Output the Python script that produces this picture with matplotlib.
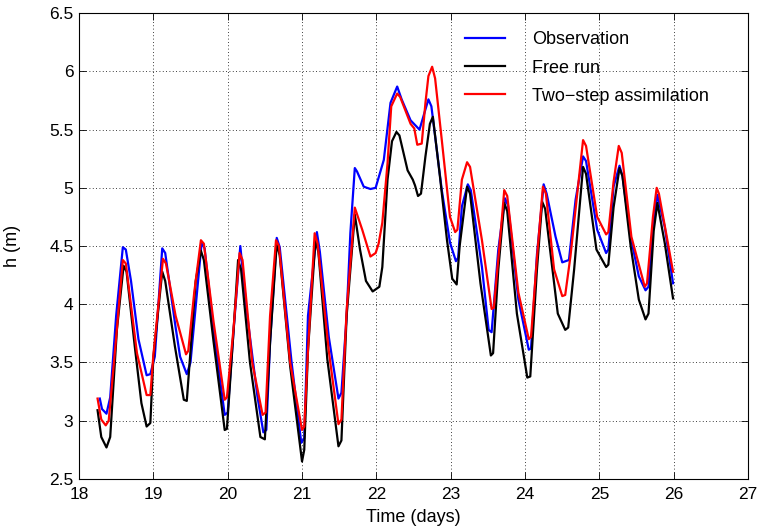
import numpy as np
import matplotlib.pyplot as plt
import matplotlib as mpl

mpl.rcParams.update({
    "font.family": "Liberation Sans",
    "font.size": 13,
    "xtick.labelsize": 12.5,
    "ytick.labelsize": 12.5,
    "xtick.direction": "in",
    "ytick.direction": "in",
    "xtick.top": True,
    "ytick.right": True,
})

# observation (blue)
obs_t = [18.28, 18.31, 18.37, 18.42, 18.50, 18.59, 18.63, 18.70, 18.80, 18.91,
         18.96, 19.02, 19.12, 19.16, 19.30, 19.36, 19.45, 19.50, 19.65, 19.69,
         19.81, 19.96, 20.00, 20.08, 20.17, 20.26, 20.40, 20.48, 20.52, 20.57,
         20.66, 20.70, 20.86, 20.99, 21.03, 21.08, 21.20, 21.24, 21.36, 21.49,
         21.53, 21.60, 21.65, 21.71, 21.74, 21.83, 21.92, 21.99, 22.10, 22.19,
         22.28, 22.34, 22.46, 22.58, 22.70, 22.74, 22.88, 22.99, 23.07, 23.10,
         23.15, 23.23, 23.27, 23.42, 23.51, 23.55, 23.64, 23.73, 23.77, 23.91,
         24.05, 24.08, 24.16, 24.25, 24.29, 24.41, 24.50, 24.59, 24.68, 24.78,
         24.82, 24.97, 25.09, 25.12, 25.19, 25.27, 25.31, 25.42, 25.53, 25.62,
         25.66, 25.73, 25.78, 25.88, 25.99]
obs_h = [3.19, 3.10, 3.06, 3.20, 3.90, 4.49, 4.47, 4.20, 3.70, 3.39,
         3.40, 3.55, 4.48, 4.44, 3.80, 3.55, 3.40, 3.50, 4.53, 4.48,
         3.78, 3.05, 3.07, 3.78, 4.50, 3.92, 3.21, 2.90, 2.92, 3.67,
         4.57, 4.49, 3.50, 2.81, 2.85, 3.90, 4.62, 4.45, 3.72, 3.19,
         3.24, 3.90, 4.61, 5.17, 5.14, 5.01, 4.99, 5.00, 5.24, 5.73,
         5.87, 5.76, 5.58, 5.50, 5.76, 5.70, 4.98, 4.53, 4.37, 4.40,
         4.84, 5.03, 4.98, 4.32, 3.78, 3.76, 4.47, 4.91, 4.85, 4.04,
         3.61, 3.62, 4.43, 5.03, 4.95, 4.58, 4.36, 4.38, 4.90, 5.27,
         5.23, 4.64, 4.44, 4.47, 5.01, 5.19, 5.10, 4.58, 4.24, 4.12,
         4.15, 4.72, 4.94, 4.66, 4.18]

# free run (black)
free_t = [18.25, 18.30, 18.37, 18.42, 18.51, 18.60, 18.64, 18.75, 18.84, 18.91,
          18.96, 19.00, 19.12, 19.16, 19.29, 19.41, 19.45, 19.57, 19.64, 19.68,
          19.81, 19.96, 19.99, 20.08, 20.14, 20.18, 20.30, 20.44, 20.50, 20.57,
          20.66, 20.70, 20.84, 21.00, 21.03, 21.08, 21.18, 21.22, 21.34, 21.49,
          21.53, 21.60, 21.71, 21.78, 21.86, 21.95, 22.04, 22.08, 22.15, 22.21,
          22.27, 22.31, 22.42, 22.49, 22.52, 22.56, 22.60, 22.66, 22.72, 22.76,
          22.86, 22.95, 23.02, 23.08, 23.12, 23.22, 23.26, 23.40, 23.54, 23.57,
          23.64, 23.72, 23.76, 23.89, 24.03, 24.07, 24.16, 24.23, 24.27, 24.44,
          24.54, 24.58, 24.66, 24.78, 24.82, 24.96, 25.09, 25.12, 25.19, 25.27,
          25.31, 25.42, 25.53, 25.62, 25.66, 25.73, 25.78, 25.88, 25.99]
free_h = [3.09, 2.86, 2.77, 2.86, 3.78, 4.33, 4.28, 3.64, 3.15, 2.95,
          2.98, 3.54, 4.28, 4.20, 3.64, 3.18, 3.17, 4.20, 4.46, 4.38,
          3.68, 2.92, 2.93, 3.78, 4.38, 4.30, 3.50, 2.86, 2.84, 3.67,
          4.52, 4.42, 3.47, 2.65, 2.75, 3.60, 4.55, 4.45, 3.53, 2.78,
          2.83, 3.90, 4.77, 4.47, 4.20, 4.11, 4.15, 4.32, 5.07, 5.40,
          5.48, 5.45, 5.15, 5.07, 5.02, 4.93, 4.95, 5.27, 5.55, 5.61,
          5.07, 4.55, 4.22, 4.17, 4.50, 5.01, 4.95, 4.18, 3.56, 3.58,
          4.30, 4.87, 4.80, 3.92, 3.37, 3.38, 4.30, 4.88, 4.82, 3.92,
          3.78, 3.80, 4.30, 5.18, 5.12, 4.47, 4.32, 4.34, 4.83, 5.17,
          5.10, 4.50, 4.04, 3.87, 3.92, 4.63, 4.87, 4.52, 4.05]

# two-step assimilation (red)
assim_t = [18.25, 18.30, 18.36, 18.40, 18.49, 18.59, 18.63, 18.78, 18.91, 18.96,
           19.00, 19.13, 19.17, 19.30, 19.44, 19.47, 19.55, 19.64, 19.68, 19.81,
           19.96, 19.99, 20.08, 20.16, 20.20, 20.33, 20.47, 20.51, 20.57, 20.65,
           20.69, 20.84, 21.00, 21.03, 21.08, 21.17, 21.21, 21.36, 21.49, 21.53,
           21.60, 21.71, 21.81, 21.92, 21.99, 22.03, 22.08, 22.15, 22.20, 22.28,
           22.32, 22.46, 22.51, 22.55, 22.61, 22.66, 22.70, 22.75, 22.79, 22.88,
           22.99, 23.06, 23.09, 23.15, 23.22, 23.26, 23.42, 23.55, 23.58, 23.67,
           23.72, 23.76, 23.91, 24.05, 24.08, 24.16, 24.24, 24.28, 24.39, 24.50,
           24.54, 24.61, 24.78, 24.82, 24.97, 25.09, 25.12, 25.19, 25.26, 25.30,
           25.43, 25.61, 25.64, 25.72, 25.77, 25.80, 25.90, 25.99]
assim_h = [3.19, 3.01, 2.96, 3.00, 3.64, 4.38, 4.35, 3.58, 3.22, 3.22,
           3.56, 4.39, 4.35, 3.90, 3.57, 3.60, 4.10, 4.55, 4.52, 3.85,
           3.18, 3.20, 3.80, 4.44, 4.38, 3.50, 3.05, 3.07, 3.90, 4.55,
           4.50, 3.50, 2.92, 2.95, 3.60, 4.61, 4.52, 3.60, 2.97, 3.01,
           3.95, 4.83, 4.64, 4.41, 4.44, 4.52, 4.70, 5.21, 5.70, 5.81,
           5.78, 5.55, 5.51, 5.37, 5.38, 5.73, 5.96, 6.04, 5.94, 5.41,
           4.75, 4.62, 4.64, 5.07, 5.22, 5.18, 4.55, 3.96, 3.97, 4.60,
           4.98, 4.93, 4.10, 3.70, 3.72, 4.40, 5.01, 4.95, 4.30, 4.07,
           4.08, 4.41, 5.41, 5.36, 4.75, 4.60, 4.62, 5.05, 5.36, 5.30,
           4.58, 4.15, 4.18, 4.75, 5.00, 4.95, 4.60, 4.28]

fig = plt.figure(figsize=(7.63, 5.28), dpi=100)
ax = fig.add_axes([0.1035, 0.093, 0.877, 0.882])

ax.plot(obs_t, obs_h, color="#0000ff", linewidth=1.6, label="Observation")
ax.plot(free_t, free_h, color="black", linewidth=1.6, label="Free run")
ax.plot(assim_t, assim_h, color="#ff0000", linewidth=1.6, label="Two\u2212step assimilation")

ax.set_xlim(18, 27)
ax.set_ylim(2.5, 6.5)
ax.set_xticks(np.arange(18, 28, 1))
ax.set_yticks(np.arange(2.5, 6.51, 0.5))
ax.set_yticklabels(["2.5", "3", "3.5", "4", "4.5", "5", "5.5", "6", "6.5"])
ax.grid(True, linestyle=(0, (1, 3)), color="black", linewidth=0.6)
ax.tick_params(length=5, width=0.6)
ax.tick_params(axis="x", pad=6)
ax.tick_params(axis="y", pad=4)
for s in ax.spines.values():
    s.set_linewidth(0.8)

ax.set_xlabel("Time (days)", labelpad=5)
ax.set_ylabel("h (m)", labelpad=20)

ax.legend(loc="upper left", bbox_to_anchor=(0.577, 0.961), frameon=False,
          borderpad=0, borderaxespad=0,
          handlelength=2.2, handletextpad=1.5, labelspacing=0.62)

fig.savefig("out.png", dpi=100)
